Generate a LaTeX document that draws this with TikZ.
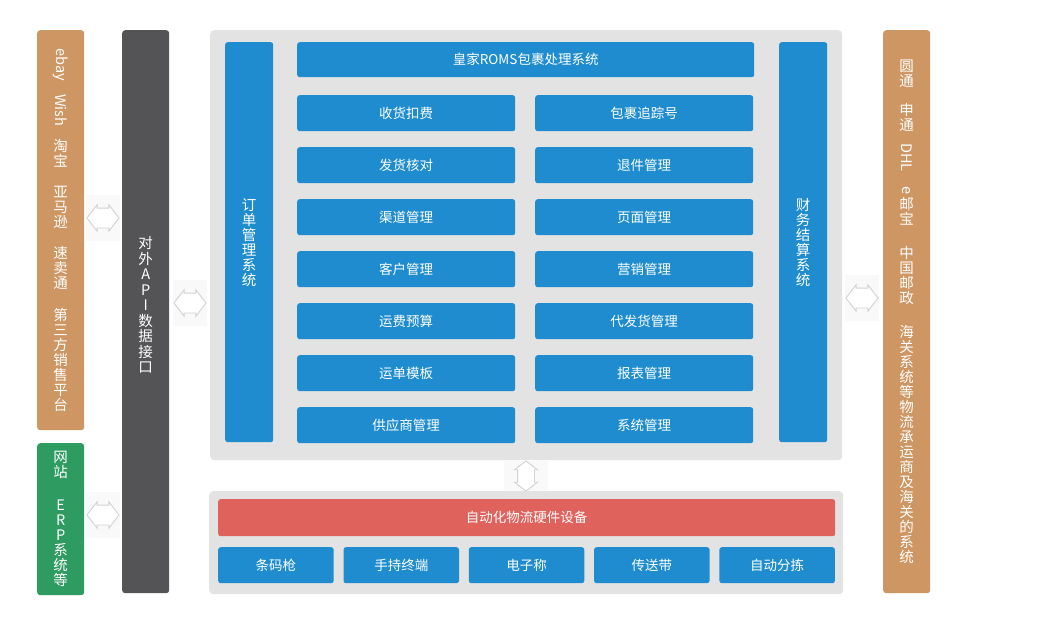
\documentclass[tikz,border=0pt]{standalone}
\usepackage{fontspec}
\setmainfont{Noto Sans CJK SC}
\usepackage{graphicx}
\usetikzlibrary{shapes.arrows}
\definecolor{roysblue}{RGB}{30,140,206}
\definecolor{tan}{RGB}{205,150,99}
\definecolor{slate}{RGB}{84,84,86}
\definecolor{leaf}{RGB}{46,155,96}
\definecolor{coral}{RGB}{224,98,92}
\definecolor{panelgray}{RGB}{228,227,227}
\newcommand{\rot}[1]{\rotatebox[origin=c]{-90}{#1}}
\newcommand{\vset}{\fontsize{14.5}{15}\selectfont\lineskiplimit=-3pt\relax\lineskip=0pt\relax}

\begin{document}
\begin{tikzpicture}[x=1pt, y=-1pt, font=\fontsize{13.5}{15}\selectfont,
  panel/.style={fill=panelgray, rounded corners=4pt, inner sep=0pt, anchor=north west},
  blk/.style={fill=roysblue, text=white, rounded corners=2.5pt, inner sep=0pt, anchor=north west, minimum height=36pt},
  mod/.style={blk, minimum width=218pt},
  hw/.style={blk, minimum width=115.5pt},
  col/.style={rounded corners=3pt, inner sep=0pt, anchor=north west, minimum width=47pt, text=white, align=center, font=\vset},
  link/.style={double arrow, draw=gray!35, fill=white, line width=0.9pt, minimum height=32pt, minimum width=0pt, inner xsep=0pt, inner ysep=9.5pt, double arrow head extend=3.3pt, double arrow tip angle=105},
  linkbg/.style={fill=gray!5, minimum width=34pt, minimum height=46pt, inner sep=0pt}]
\useasboundingbox (0,0) rectangle (1051,622);

% outer columns
\node[col, fill=tan, minimum height=400pt] (shops) at (37,30)
  {\rot{ebay}\\[13pt]\rot{Wish}\\[13pt]淘\\宝\\[16pt]亚\\马\\逊\\[16pt]速\\卖\\通\\[17pt]第\\三\\方\\销\\售\\平\\台};
\node[col, fill=leaf, minimum height=152pt] (erp) at (37,443)
  {网\\站\\[18pt]E\\R\\P\\系\\统\\等};
\node[col, fill=slate, minimum height=563pt, font=\fontsize{14.5}{15.5}\selectfont] (api) at (122,30)
  {对\\外\\A\\P\\I\\数\\据\\接\\口\\[-1.5pt]\mbox{}};
\node[col, fill=tan, minimum height=563pt] (carriers) at (883,30)
  {圆\\通\\[14pt]申\\通\\[12pt]\rot{DHL}\\[17pt]\rot{e}\\邮\\宝\\[19pt]中\\国\\邮\\政\\[19pt]海\\关\\系\\统\\等\\物\\流\\承\\运\\商\\及\\海\\关\\的\\系\\统};

% main system
\node[panel, minimum width=632pt, minimum height=430pt] (core) at (210,30) {};
\node[blk, minimum width=48pt, minimum height=400pt, align=center, font=\vset] (orders) at (225,42)
  {订\\单\\管\\理\\系\\统};
\node[blk, minimum width=48pt, minimum height=400pt, align=center, font=\vset] (finance) at (779,42)
  {财\\务\\结\\算\\系\\统};
\node[blk, minimum width=457pt, minimum height=35pt] (roms) at (297,42) {皇家ROMS包裹处理系统};
\foreach \txt [count=\i from 0] in {收货扣费,发货核对,渠道管理,客户管理,运费预算,运单模板,供应商管理}
  \node[mod] (left\i) at (297,{95+52*\i}) {\txt};
\foreach \txt [count=\i from 0] in {包裹追踪号,退件管理,页面管理,营销管理,代发货管理,报表管理,系统管理}
  \node[mod] (right\i) at (535,{95+52*\i}) {\txt};

% hardware
\node[panel, minimum width=634pt, minimum height=103pt] (hwpanel) at (209,491) {};
\node[blk, fill=coral, minimum width=617pt, minimum height=37pt] (devices) at (218,499) {自动化物流硬件设备};
\foreach \txt [count=\i from 0] in {条码枪,手持终端,电子称,传送带,自动分拣}
  \node[hw] (hw\i) at ({218+125.3*\i},547) {\txt};

% links
\node[linkbg] (bg1) at (103,218) {};
\node[linkbg] (bg2) at (103,515) {};
\node[linkbg] (bg3) at (190,303) {};
\node[linkbg] (bg4) at (862,298) {};
\node[linkbg, minimum width=44pt, minimum height=30pt] (bg5) at (526,476) {};
\node[link] (shops-api) at (bg1) {};
\node[link] (erp-api) at (bg2) {};
\node[link] (api-core) at (bg3) {};
\node[link] (core-carriers) at (bg4) {};
\node[link, rotate=90, minimum height=30pt, inner ysep=8pt, double arrow head extend=3pt] (core-hw) at (bg5) {};
\end{tikzpicture}
\end{document}
